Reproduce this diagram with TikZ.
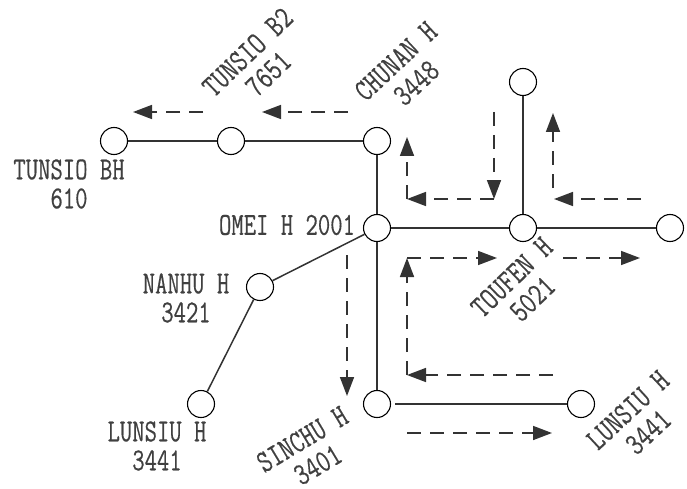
\documentclass[tikz,border=0pt]{standalone}
\usepackage{fontspec}
\usepackage{tikz}
\usetikzlibrary{arrows.meta}
\newfontfamily\stationfont[FakeStretch=0.75,FakeBold=0.4]{Latin Modern Mono}
\newfontfamily\slantstationfont[FakeStretch=0.76,FakeBold=0.4]{Latin Modern Mono}

\tikzset{
    bus/.style={circle,draw,fill=white,line width=1.1pt,minimum size=27pt,inner sep=0pt},
    line/.style={draw=black!80,line width=1.5pt},
    flow/.style={draw=black!80,line width=1.6pt,dash pattern=on 14pt off 9pt},
    flowtip/.style={flow,-{Triangle[length=19pt,width=14pt]}},
    station/.style={font=\stationfont\fontsize{32}{29}\selectfont,text=black!75,align=center,inner sep=0pt},
    slantstation/.style={font=\slantstationfont\fontsize{32}{30}\selectfont,text=black!75,align=center,inner sep=0pt}
}

\begin{document}
\begin{tikzpicture}[x=1pt,y=-1pt]
\useasboundingbox (0,0) rectangle (687,489);
% buses
\foreach \x/\y/\name in {114/141/tunsiobh,231/141/tunsiob,377/141/chunan,377/228/omei,523/82/north,523/228/toufen,670/228/east,260/287/nanhu,201/404/lunsiuw,377/404/sinchu,581/404/lunsiue} {
    \node[bus] (\name) at (\x,\y) {};
}
% lines
\draw[line] (tunsiobh) -- (tunsiob);
\draw[line] (tunsiob) -- (chunan);
\draw[line] (chunan) -- (omei);
\draw[line] (omei) -- (toufen);
\draw[line] (toufen) -- (east);
\draw[line] (toufen) -- (north);
\draw[line] (omei) -- (nanhu);
\draw[line] (nanhu) -- (lunsiuw);
\draw[line] (omei) -- (sinchu);
\draw[line,shorten <=4pt] (sinchu) -- (lunsiue);
% labels
\node[station] (lbltunsiobh) at (69,184) {TUNSIO BH\\610};
\node[slantstation,rotate=44] (lbltunsiob) at (258,63) {TUNSIO B2\\7651};
\node[slantstation,rotate=43] (lblchunan) at (406,72) {CHUNAN H\\3448};
\node[station] (lblomei) at (287,225) {OMEI H 2001};
\node[station] (lblnanhu) at (186,298) {NANHU H\\3421};
\node[slantstation,rotate=44] (lbltoufen) at (522,288) {TOUFEN H\\5021};
\node[station] (lbllunsiuw) at (157,446) {LUNSIU H\\3441};
\node[slantstation,rotate=31] (lblsinchu) at (310,452) {SINCHU H\\3401};
\node[slantstation,rotate=43] (lbllunsiue) at (638,421) {LUNSIU H\\3441};
% flow arrows
\foreach \x/\y/\name in {203/112/a,133/112/b,348/112/c,262/112/d,494/112/e,494/199/f,407/199/g,407/137/h,641/199/i,554/199/j,553/188/k,553/113/l,553/375/m,407/375/n,407/258/o,497/258/p,563/258/q,640/258/r,347/255/s,347/396/t,407/433/u,552/433/v} {
    \coordinate (\name) at (\x,\y);
}
\draw[flowtip] (a) -- (b);
\draw[flowtip] (c) -- (d);
\draw[flowtip] (e) -- (f);
\draw[flowtip] (f) -- (g);
\draw[flowtip] (g) -- (h);
\draw[flowtip] (i) -- (j);
\draw[flowtip] (k) -- (l);
\draw[flowtip] (m) -- (n);
\draw[flowtip] (n) -- (o);
\draw[flowtip] (o) -- (p);
\draw[flowtip] (q) -- (r);
\draw[flowtip] (s) -- (t);
\draw[flowtip] (u) -- (v);
\end{tikzpicture}
\end{document}
